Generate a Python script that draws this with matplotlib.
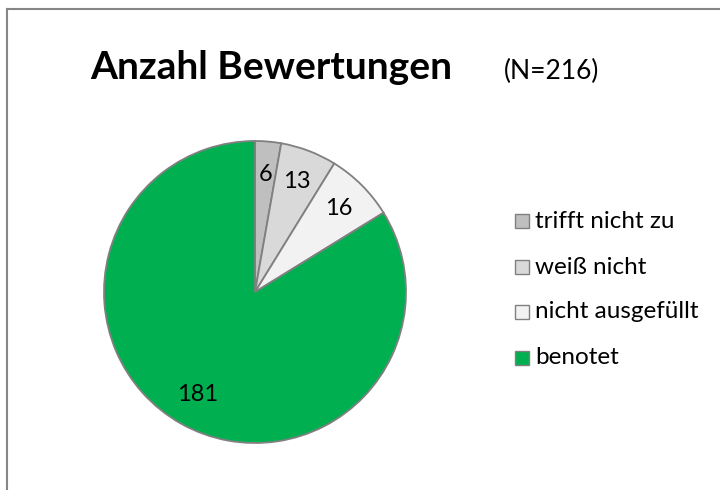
import matplotlib
matplotlib.use('Agg')
import matplotlib.pyplot as plt
from matplotlib.patches import Rectangle
from matplotlib.lines import Line2D

plt.rcParams['font.family'] = ['Lato', 'DejaVu Sans']

# data
categories = ['trifft nicht zu', 'weiß nicht', 'nicht ausgefüllt', 'benotet']
counts = [6, 13, 16, 181]
colors = ['#bfbfbf', '#d9d9d9', '#f2f2f2', '#00b050']
title = 'Anzahl Bewertungen'
subtitle = '(N=%d)' % sum(counts)

W, H = 720, 490
fig = plt.figure(figsize=(W / 100, H / 100), dpi=100)

# pie centre (255, 292) px, radius 151 px
cx, cy, r = 255, 292, 151
ax = fig.add_axes([(cx - r) / W, (H - cy - r) / H, 2 * r / W, 2 * r / H])
wedges, texts = ax.pie(counts, colors=colors, labels=[str(c) for c in counts],
                       labeldistance=0.78, startangle=90, counterclock=False,
                       wedgeprops=dict(edgecolor='#808080', linewidth=1.3),
                       textprops=dict(fontsize=17, color='black'))
for t in texts:
    t.set_ha('center')
    t.set_va('center')
for w in wedges:
    w.set_clip_on(False)
ax.set_xlim(-1, 1)
ax.set_ylim(-1, 1)
ax.set_aspect('equal')
ax.axis('off')

# title
fig.text(271 / W, 1 - 79 / H, title, fontsize=28, fontweight='bold',
         ha='center', va='baseline')
fig.text(552 / W, 1 - 79 / H, subtitle, fontsize=19, ha='center', va='baseline')

# legend drawn by hand
rows_y = [221, 267, 312, 358]
sq = 14
for cat, col, y in zip(categories, colors, rows_y):
    fig.add_artist(Rectangle((515 / W, 1 - (y + sq / 2) / H), sq / W, sq / H,
                             facecolor=col, edgecolor='#808080', linewidth=1,
                             transform=fig.transFigure))
    fig.text(535 / W, 1 - y / H, cat, fontsize=17.5, ha='left', va='center')

# chart frame (only top and left visible in the crop)
fig.add_artist(Line2D([7 / W, 1], [1 - 9 / H, 1 - 9 / H], color='#868686',
                      linewidth=1.5, transform=fig.transFigure))
fig.add_artist(Line2D([7 / W, 7 / W], [1 - 9 / H, 0], color='#868686',
                      linewidth=1.5, transform=fig.transFigure))

fig.savefig('out.png', dpi=100)
